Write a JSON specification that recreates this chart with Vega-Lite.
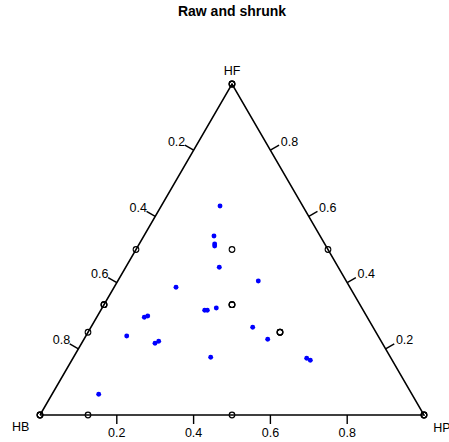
{
  "$schema": "https://vega.github.io/schema/vega-lite/v6.json",
  "width": 449,
  "height": 417,
  "autosize": "none",
  "padding": {"top": 25, "left": 0, "right": 0, "bottom": 0},
  "title": {"text": "Raw and shrunk", "font": "Liberation Sans", "fontSize": 14, "fontWeight": "bold", "anchor": "middle", "dx": 7.5, "baseline": "alphabetic", "offset": -5, "color": "black"},
  "config": {"view": {"stroke": null}, "text": {"font": "Liberation Sans"}},
  "datasets": {
    "triangle": [
      {"x": 0, "y": 0, "o": 0},
      {"x": 1, "y": 0, "o": 1},
      {"x": 0.5, "y": 1, "o": 2},
      {"x": 0, "y": 0, "o": 3}
    ],
    "ticks": [
      {"x": 0.4, "y": 0.8, "x2": 0.37745, "y2": 0.81511},
      {"x": 0.3, "y": 0.6, "x2": 0.27745, "y2": 0.61511},
      {"x": 0.2, "y": 0.4, "x2": 0.17745, "y2": 0.41511},
      {"x": 0.1, "y": 0.2, "x2": 0.07745, "y2": 0.21511},
      {"x": 0.9, "y": 0.2, "x2": 0.92255, "y2": 0.21511},
      {"x": 0.8, "y": 0.4, "x2": 0.82255, "y2": 0.41511},
      {"x": 0.7, "y": 0.6, "x2": 0.72255, "y2": 0.61511},
      {"x": 0.6, "y": 0.8, "x2": 0.62255, "y2": 0.81511},
      {"x": 0.2, "y": 0, "x2": 0.2, "y2": -0.0272},
      {"x": 0.4, "y": 0, "x2": 0.4, "y2": -0.0272},
      {"x": 0.6, "y": 0, "x2": 0.6, "y2": -0.0272},
      {"x": 0.8, "y": 0, "x2": 0.8, "y2": -0.0272}
    ],
    "ticklabels": [
      {"x": 0.3557, "y": 0.8257, "label": "0.2"},
      {"x": 0.2557, "y": 0.6257, "label": "0.4"},
      {"x": 0.1557, "y": 0.4257, "label": "0.6"},
      {"x": 0.0557, "y": 0.2257, "label": "0.8"},
      {"x": 0.9495, "y": 0.2257, "label": "0.2"},
      {"x": 0.8495, "y": 0.4257, "label": "0.4"},
      {"x": 0.7495, "y": 0.6257, "label": "0.6"},
      {"x": 0.6495, "y": 0.8257, "label": "0.8"},
      {"x": 0.2, "y": -0.0535, "label": "0.2"},
      {"x": 0.4, "y": -0.0535, "label": "0.4"},
      {"x": 0.6, "y": -0.0535, "label": "0.6"},
      {"x": 0.8, "y": -0.0535, "label": "0.8"}
    ],
    "vertices": [
      {"x": 0.5, "y": 1.0402, "label": "HF"},
      {"x": -0.0503, "y": -0.0372, "label": "HB"},
      {"x": 1.0469, "y": -0.0382, "label": "HP"}
    ],
    "raw": [
      {"x": 0, "y": 0}, {"x": 0, "y": 0}, {"x": 0, "y": 0},
      {"x": 1, "y": 0}, {"x": 1, "y": 0}, {"x": 1, "y": 0},
      {"x": 0.5, "y": 1}, {"x": 0.5, "y": 1}, {"x": 0.5, "y": 1},
      {"x": 0.25, "y": 0.5},
      {"x": 0.1667, "y": 0.3333}, {"x": 0.1667, "y": 0.3333}, {"x": 0.1667, "y": 0.3333},
      {"x": 0.125, "y": 0.25},
      {"x": 0.125, "y": 0},
      {"x": 0.5, "y": 0},
      {"x": 0.5, "y": 0.5},
      {"x": 0.5, "y": 0.3333}, {"x": 0.5, "y": 0.3333}, {"x": 0.5, "y": 0.3333},
      {"x": 0.625, "y": 0.25}, {"x": 0.625, "y": 0.25}, {"x": 0.625, "y": 0.25},
      {"x": 0.75, "y": 0.5}
    ],
    "shrunk": [
      {"x": 0.4688, "y": 0.6314},
      {"x": 0.4531, "y": 0.5408},
      {"x": 0.4549, "y": 0.5166},
      {"x": 0.4549, "y": 0.5106},
      {"x": 0.4669, "y": 0.4462},
      {"x": 0.3542, "y": 0.3858},
      {"x": 0.5685, "y": 0.4048},
      {"x": 0.2716, "y": 0.2952},
      {"x": 0.2805, "y": 0.2991},
      {"x": 0.2258, "y": 0.2387},
      {"x": 0.2995, "y": 0.2166},
      {"x": 0.3091, "y": 0.2227},
      {"x": 0.4289, "y": 0.3163},
      {"x": 0.4357, "y": 0.3163},
      {"x": 0.4591, "y": 0.3233},
      {"x": 0.4445, "y": 0.1743},
      {"x": 0.1529, "y": 0.0625},
      {"x": 0.5539, "y": 0.2650},
      {"x": 0.5930, "y": 0.2287},
      {"x": 0.6945, "y": 0.1713},
      {"x": 0.7039, "y": 0.1653}
    ]
  },
  "layer": [
    {
      "data": {"name": "triangle"},
      "mark": {"type": "line", "color": "black", "strokeWidth": 1.5, "clip": false},
      "encoding": {
        "x": {"field": "x", "type": "quantitative", "scale": {"domain": [-0.104167, 1.065104], "nice": false, "zero": false}, "axis": null},
        "y": {"field": "y", "type": "quantitative", "scale": {"domain": [-0.081571, 1.178248], "nice": false, "zero": false}, "axis": null},
        "order": {"field": "o", "type": "quantitative"}
      }
    },
    {
      "data": {"name": "ticks"},
      "mark": {"type": "rule", "color": "black", "strokeWidth": 1.4},
      "encoding": {
        "x": {"field": "x", "type": "quantitative", "axis": null},
        "y": {"field": "y", "type": "quantitative", "axis": null},
        "x2": {"field": "x2"},
        "y2": {"field": "y2"}
      }
    },
    {
      "data": {"name": "ticklabels"},
      "mark": {"type": "text", "fontSize": 12.5, "align": "center", "baseline": "middle", "color": "black"},
      "encoding": {
        "x": {"field": "x", "type": "quantitative", "axis": null},
        "y": {"field": "y", "type": "quantitative", "axis": null},
        "text": {"field": "label"}
      }
    },
    {
      "data": {"name": "vertices"},
      "mark": {"type": "text", "fontSize": 12.5, "align": "center", "baseline": "middle", "color": "black"},
      "encoding": {
        "x": {"field": "x", "type": "quantitative", "axis": null},
        "y": {"field": "y", "type": "quantitative", "axis": null},
        "text": {"field": "label"}
      }
    },
    {
      "data": {"name": "raw"},
      "mark": {"type": "point", "shape": "circle", "filled": false, "color": "black", "size": 32, "strokeWidth": 1.1, "opacity": 1},
      "encoding": {
        "x": {"field": "x", "type": "quantitative", "axis": null},
        "y": {"field": "y", "type": "quantitative", "axis": null}
      }
    },
    {
      "data": {"name": "shrunk"},
      "mark": {"type": "point", "shape": "circle", "filled": true, "color": "#0000FF", "size": 24, "opacity": 1},
      "encoding": {
        "x": {"field": "x", "type": "quantitative", "axis": null},
        "y": {"field": "y", "type": "quantitative", "axis": null}
      }
    }
  ]
}
